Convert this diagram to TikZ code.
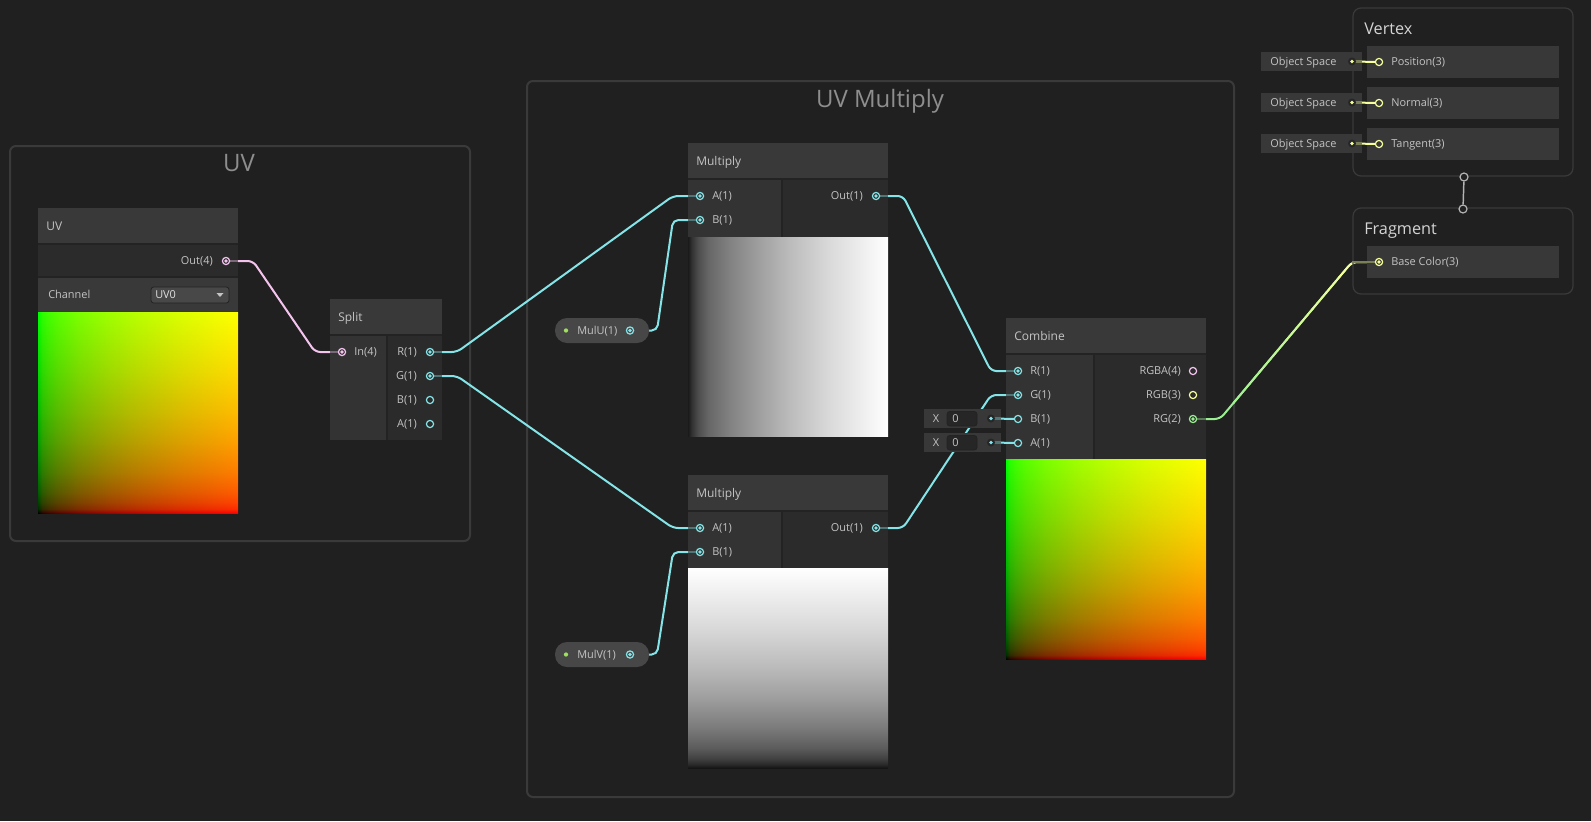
\documentclass[tikz,border=0pt]{standalone}
\usepackage{fontspec}
\setmainfont{Open Sans}
\usetikzlibrary{calc}

% palette
\definecolor{bg}{HTML}{202020}
\definecolor{grpline}{HTML}{3A3A3A}
\definecolor{grptxt}{HTML}{8E8E8E}
\definecolor{head}{HTML}{393939}
\definecolor{colin}{HTML}{333333}
\definecolor{colout}{HTML}{2B2B2B}
\definecolor{divc}{HTML}{232323}
\definecolor{txt}{HTML}{C4C4C4}
\definecolor{ctxtxt}{HTML}{D4D4D4}
\definecolor{cyanw}{HTML}{84E4E7}
\definecolor{pinkw}{HTML}{F4C4EE}
\definecolor{yelw}{HTML}{F6FF9A}
\definecolor{grnw}{HTML}{9AEF92}
\definecolor{pillc}{HTML}{474747}
\definecolor{propdot}{HTML}{9FE05C}
\definecolor{rowc}{HTML}{383838}
\definecolor{fieldbg}{HTML}{262626}
\definecolor{flowc}{HTML}{B4B4B4}
\definecolor{ddc}{HTML}{484848}

% gamma-corrected ramps (the central 25bp..75bp band maps onto the filled area)
\pgfdeclarehorizontalshading{rampRed}{100bp}{rgb(0bp)=(0,0,0); rgb(25bp)=(0,0,0); rgb(26bp)=(.169,0,0); rgb(27.5bp)=(.256,0,0); rgb(30bp)=(.351,0,0); rgb(35bp)=(.481,0,0); rgb(42.5bp)=(.62,0,0); rgb(50bp)=(.73,0,0); rgb(60bp)=(.85,0,0); rgb(75bp)=(1,0,0); rgb(100bp)=(1,0,0)}
\pgfdeclareverticalshading{rampGreen}{100bp}{rgb(0bp)=(0,0,0); rgb(25bp)=(0,0,0); rgb(26bp)=(0,.169,0); rgb(27.5bp)=(0,.256,0); rgb(30bp)=(0,.351,0); rgb(35bp)=(0,.481,0); rgb(42.5bp)=(0,.62,0); rgb(50bp)=(0,.73,0); rgb(60bp)=(0,.85,0); rgb(75bp)=(0,1,0); rgb(100bp)=(0,1,0)}
\pgfdeclarehorizontalshading{rampGrayH}{100bp}{rgb(0bp)=(.1,.1,.1); rgb(25bp)=(.1,.1,.1); rgb(26bp)=(.2,.2,.2); rgb(27.5bp)=(.3,.3,.3); rgb(30bp)=(.4,.4,.4); rgb(35bp)=(.5,.5,.5); rgb(42.5bp)=(.62,.62,.62); rgb(50bp)=(.73,.73,.73); rgb(60bp)=(.85,.85,.85); rgb(75bp)=(1,1,1); rgb(100bp)=(1,1,1)}
\pgfdeclareverticalshading{rampGrayV}{100bp}{rgb(0bp)=(.08,.08,.08); rgb(25bp)=(.08,.08,.08); rgb(26bp)=(.17,.17,.17); rgb(27.5bp)=(.26,.26,.26); rgb(30bp)=(.36,.36,.36); rgb(35bp)=(.48,.48,.48); rgb(42.5bp)=(.62,.62,.62); rgb(50bp)=(.73,.73,.73); rgb(60bp)=(.85,.85,.85); rgb(75bp)=(1,1,1); rgb(100bp)=(1,1,1)}

\newcommand\fntitle{\fontsize{9}{11}\selectfont}
\newcommand\fnport{\fontsize{8.2}{10}\selectfont}
\newcommand\fngroup{\fontsize{18}{21}\selectfont}
\newcommand\fnctx{\fontsize{12.2}{14}\selectfont}

% rectangular node from pixel corners: [style]{name}{x1}{y1}{x2}{y2}
\newcommand\rectnode[6][]{\node[blk,#1,minimum width={(#5-#3)*0.75pt},minimum height={(#6-#4)*0.75pt}] (#2) at (#3,#4) {};}
% wire between two ports with fixed horizontal lead-outs
\newcommand\wireto[3]{\draw[wire=#1] (#2.center) -- ($(#2.center)+(27,0)$) -- ($(#3.center)+(-27,0)$) -- (#3.center);}
% dimmed lead inside a node
\newcommand\stub[3]{\draw[stubw=#1] (#2.center) -- (#2.center -| #3);}
% UV style preview: red along x, green along y
\newcommand\uvpreview[4]{%
  \fill[shading=rampRed] (#1,#2) rectangle (#3,#4);
  \fill[shading=rampGreen, blend mode=screen] (#1,#2) rectangle (#3,#4);}

\pgfdeclarelayer{back}
\pgfdeclarelayer{wires}
\pgfdeclarelayer{stubs}
\pgfdeclarelayer{fore}
\pgfsetlayers{back,wires,main,stubs,fore}

\begin{document}
\begin{tikzpicture}[x=0.75pt, y=-0.75pt,
  blk/.style={rectangle, inner sep=0pt, outer sep=0pt, anchor=north west},
  nodebox/.style={fill=colout},
  grpframe/.style={draw=grpline, line width=1.5pt, rounded corners=4.5pt},
  ctxbox/.style={draw=grpline, line width=0.9pt, rounded corners=6pt},
  rowbox/.style={fill=rowc},
  osbox/.style={fill=rowc},
  fieldbox/.style={fill=rowc},
  valfield/.style={fill=fieldbg, draw=divc, line width=0.6pt, rounded corners=2pt},
  dropdown/.style={fill=ddc, draw=divc, line width=0.6pt, rounded corners=2pt},
  pill/.style={fill=pillc, rounded corners=9pt},
  divline/.style={draw=divc, line width=0.9pt},
  ntitle/.style={font=\fntitle, text=txt, inner sep=0pt, text height=6.4pt, text depth=0pt, anchor=west},
  plab/.style={font=\fnport, text=txt, inner sep=0pt, text height=5.85pt, text depth=0pt},
  gtitle/.style={font=\fngroup, text=grptxt, inner sep=0pt, text height=12.9pt, text depth=0pt},
  ctitle/.style={font=\fnctx, text=ctxtxt, inner sep=0pt, text height=8.7pt, text depth=0pt, anchor=west},
  pc/.style={circle, draw=#1, fill=colout, line width=0.9pt, minimum size=5.4pt, inner sep=0pt,
    path picture={\fill[#1] (path picture bounding box.center) circle (1.45pt);}},
  po/.style={circle, draw=#1, fill=colout, line width=0.9pt, minimum size=5.4pt, inner sep=0pt},
  idot/.style={circle, fill=fieldbg, minimum size=6pt, inner sep=0pt,
    path picture={\fill[#1] (path picture bounding box.center) circle (1.4pt);}},
  flowport/.style={circle, draw=flowc, fill=bg, line width=0.9pt, minimum size=6pt, inner sep=0pt},
  wire/.style={draw=#1, line width=1.5pt, rounded corners=4pt},
  stubw/.style={draw=#1!40!colout, line width=1.5pt}
]
\useasboundingbox (0,0) rectangle (1591,821);

% ---------- canvas and groups ----------
\begin{pgfonlayer}{back}
  \fill[bg] (0,0) rectangle (1591,821);
  \rectnode[grpframe]{uvGroup}{10}{146}{470}{541}
  \rectnode[grpframe]{mulGroup}{527}{81}{1234}{797}
\end{pgfonlayer}
\node[gtitle] (uvGroupT) at (239,163) {UV};
\node[gtitle] (mulGroupT) at (880,99) {UV Multiply};

% ---------- UV node ----------
\rectnode[nodebox]{uv}{38}{208}{238}{513}
\fill[head] (38,208) rectangle (238,244);
\fill[head] (38,277) rectangle (238,312);
\draw[divline] (38,244) -- (238,244) (38,277) -- (238,277);
\uvpreview{38}{312}{238}{513}
\node[ntitle] (uvT) at (46,226) {UV};
\node[plab, anchor=east] (uvOutL) at (213,261) {Out(4)};
\node[plab, anchor=west] (uvChan) at (48,295) {Channel};
\rectnode[dropdown]{uvDrop}{151}{287}{229}{303}
\node[plab, anchor=west, text=white!88!black] (uvDropT) at (155,295) {UV0};
\fill[txt] (216.5,293) -- (223.5,293) -- (220,297) -- cycle;

% ---------- Split node ----------
\rectnode[nodebox]{sp}{330}{299}{442}{440}
\fill[head] (330,299) rectangle (442,335);
\fill[colin] (330,335) rectangle (387,440);
\draw[divline] (330,335) -- (442,335) (387,335) -- (387,440);
\node[ntitle] (spT) at (338,317) {Split};
\node[plab, anchor=west] (spInL) at (354,352) {In(4)};
\node[plab, anchor=east] (spRL) at (417,352) {R(1)};
\node[plab, anchor=east] (spGL) at (417,376) {G(1)};
\node[plab, anchor=east] (spBL) at (417,400) {B(1)};
\node[plab, anchor=east] (spAL) at (417,424) {A(1)};

% ---------- Multiply (U) ----------
\rectnode[nodebox]{mulT}{688}{143}{888}{436}
\fill[head] (688,143) rectangle (888,179);
\fill[colin] (688,179) rectangle (782,237);
\draw[divline] (688,179) -- (888,179) (782,179) -- (782,237);
\fill[shading=rampGrayH] (688,237) rectangle (888,436);
\node[ntitle] (mulTT) at (696,161) {Multiply};
\node[plab, anchor=west] (mulTAL) at (712,196) {A(1)};
\node[plab, anchor=west] (mulTBL) at (712,220) {B(1)};
\node[plab, anchor=east] (mulTOutL) at (863,196) {Out(1)};

% ---------- Multiply (V) ----------
\rectnode[nodebox]{mulB}{688}{475}{888}{768}
\fill[head] (688,475) rectangle (888,511);
\fill[colin] (688,511) rectangle (782,568);
\draw[divline] (688,511) -- (888,511) (782,511) -- (782,568);
\fill[shading=rampGrayV] (688,568) rectangle (888,768);
\node[ntitle] (mulBT) at (696,493) {Multiply};
\node[plab, anchor=west] (mulBAL) at (712,528) {A(1)};
\node[plab, anchor=west] (mulBBL) at (712,552) {B(1)};
\node[plab, anchor=east] (mulBOutL) at (863,528) {Out(1)};

% ---------- properties ----------
\rectnode[pill]{mulU}{555}{318}{649}{343}
\fill[propdot] (566,330.5) circle (1.6pt);
\node[plab, anchor=west] (mulUL) at (577,330.5) {MulU(1)};
\rectnode[pill]{mulV}{555}{642}{649}{667}
\fill[propdot] (566,654.5) circle (1.6pt);
\node[plab, anchor=west] (mulVL) at (577,654.5) {MulV(1)};

% ---------- Combine ----------
\rectnode[nodebox]{cmb}{1006}{318}{1206}{659}
\fill[head] (1006,318) rectangle (1206,354);
\fill[colin] (1006,354) rectangle (1094,459);
\draw[divline] (1006,354) -- (1206,354) (1094,354) -- (1094,459);
\uvpreview{1006}{459}{1206}{659}
\node[ntitle] (cmbT) at (1014,336) {Combine};
\node[plab, anchor=west] (cmbRL) at (1030,371) {R(1)};
\node[plab, anchor=west] (cmbGL) at (1030,395) {G(1)};
\node[plab, anchor=west] (cmbBL) at (1030,419) {B(1)};
\node[plab, anchor=west] (cmbAL) at (1030,443) {A(1)};
\node[plab, anchor=east] (cmbRGBAL) at (1181,371) {RGBA(4)};
\node[plab, anchor=east] (cmbRGBL) at (1181,395) {RGB(3)};
\node[plab, anchor=east] (cmbRGL) at (1181,419) {RG(2)};

% inline default values
\rectnode[fieldbox]{fldB}{924}{409}{1001}{428}
\node[plab] (fldBX) at (936,418.5) {X};
\rectnode[valfield]{fldBV}{947}{411.5}{977}{426}
\node[plab, anchor=west] (fldBVT) at (952,418.5) {0};
\rectnode[fieldbox]{fldA}{924}{433}{1001}{452}
\node[plab] (fldAX) at (936,442.5) {X};
\rectnode[valfield]{fldAV}{947}{435.5}{977}{450}
\node[plab, anchor=west] (fldAVT) at (952,442.5) {0};

% ---------- Vertex / Fragment contexts ----------
\rectnode[ctxbox]{vtx}{1353}{8}{1573}{176}
\node[ctitle] (vtxT) at (1364,29) {Vertex};
\rectnode[rowbox]{vtxPos}{1367}{46}{1559}{78}
\rectnode[rowbox]{vtxNrm}{1367}{87}{1559}{119}
\rectnode[rowbox]{vtxTan}{1367}{128}{1559}{160}
\node[plab, anchor=west] (vtxPosL) at (1391,62) {Position(3)};
\node[plab, anchor=west] (vtxNrmL) at (1391,103) {Normal(3)};
\node[plab, anchor=west] (vtxTanL) at (1391,144) {Tangent(3)};
\rectnode[osbox]{osPos}{1261}{52}{1362}{71}
\rectnode[osbox]{osNrm}{1261}{93}{1362}{112}
\rectnode[osbox]{osTan}{1261}{134}{1362}{153}
\node[plab, anchor=west] (osPosL) at (1270,61.5) {Object Space};
\node[plab, anchor=west] (osNrmL) at (1270,102.5) {Object Space};
\node[plab, anchor=west] (osTanL) at (1270,143.5) {Object Space};

\rectnode[ctxbox]{frg}{1353}{208}{1573}{294}
\node[ctitle] (frgT) at (1364,229) {Fragment};
\rectnode[rowbox]{frgRow}{1367}{246}{1559}{278}
\node[plab, anchor=west] (frgBaseL) at (1391,262) {Base Color(3)};

% ---------- ports ----------
\begin{pgfonlayer}{fore}
  \node[pc=pinkw] (uvOut) at (226,261) {};
  \node[pc=pinkw, fill=colin] (spIn) at (342,352) {};
  \node[pc=cyanw] (spR) at (430,352) {};
  \node[pc=cyanw] (spG) at (430,376) {};
  \node[po=cyanw] (spB) at (430,400) {};
  \node[po=cyanw] (spA) at (430,424) {};
  \node[pc=cyanw, fill=colin] (mulTA) at (700,196) {};
  \node[pc=cyanw, fill=colin] (mulTB) at (700,220) {};
  \node[pc=cyanw] (mulTOut) at (876,196) {};
  \node[pc=cyanw, fill=colin] (mulBA) at (700,528) {};
  \node[pc=cyanw, fill=colin] (mulBB) at (700,552) {};
  \node[pc=cyanw] (mulBOut) at (876,528) {};
  \node[pc=cyanw, fill=pillc] (mulUOut) at (630,330.5) {};
  \node[pc=cyanw, fill=pillc] (mulVOut) at (630,654.5) {};
  \node[pc=cyanw, fill=colin] (cmbR) at (1018,371) {};
  \node[pc=cyanw, fill=colin] (cmbG) at (1018,395) {};
  \node[po=cyanw, fill=colin] (cmbB) at (1018,419) {};
  \node[po=cyanw, fill=colin] (cmbA) at (1018,443) {};
  \node[po=pinkw] (cmbRGBA) at (1193,371) {};
  \node[po=yelw] (cmbRGB) at (1193,395) {};
  \node[pc=grnw] (cmbRG) at (1193,419) {};
  \node[idot=cyanw] (fldBDot) at (991,418.5) {};
  \node[idot=cyanw] (fldADot) at (991,442.5) {};
  \node[po=yelw, fill=rowc] (vtxPosP) at (1379,62) {};
  \node[po=yelw, fill=rowc] (vtxNrmP) at (1379,103) {};
  \node[po=yelw, fill=rowc] (vtxTanP) at (1379,144) {};
  \node[idot=yelw] (osPosDot) at (1352,61.5) {};
  \node[idot=yelw] (osNrmDot) at (1352,102.5) {};
  \node[idot=yelw] (osTanDot) at (1352,143.5) {};
  \node[pc=yelw, fill=rowc] (frgBase) at (1379,262) {};
  \node[flowport] (vtxFlow) at (1464,177) {};
  \node[flowport] (frgFlow) at (1463,209) {};
\end{pgfonlayer}
\draw[flowc, line width=1.1pt] (vtxFlow) -- (frgFlow);

% ---------- connections ----------
\coordinate (rgBend) at ($(cmbRG.center)+(27,0)$);
\coordinate (bcBend) at ($(frgBase.center)+(-27,0)$);
\begin{pgfonlayer}{wires}
  \wireto{pinkw}{uvOut}{spIn}
  \wireto{cyanw}{spR}{mulTA}
  \wireto{cyanw}{spG}{mulBA}
  \wireto{cyanw}{mulUOut}{mulTB}
  \wireto{cyanw}{mulVOut}{mulBB}
  \wireto{cyanw}{mulTOut}{cmbR}
  \wireto{cyanw}{mulBOut}{cmbG}
  % RG(2) -> Base Color(3), blending from green to yellow
  \draw[wire=grnw] (cmbRG.center) -- (rgBend) -- (bcBend) -- (frgBase.center);
  \foreach \i in {1,...,8}{
    \pgfmathtruncatemacro\pct{\i*11}
    \pgfmathsetmacro\ta{\i/10}
    \pgfmathsetmacro\tb{\i/10+0.105}
    \draw[line width=1.5pt, draw=yelw!\pct!grnw] ($(rgBend)!\ta!(bcBend)$) -- ($(rgBend)!\tb!(bcBend)$);
  }
  \draw[wire=yelw] ($(rgBend)!0.9!(bcBend)$) -- (bcBend) -- (frgBase.center);
\end{pgfonlayer}

\begin{pgfonlayer}{stubs}
  \stub{pinkw}{uvOut}{uv.east}
  \stub{pinkw}{spIn}{sp.west}
  \stub{cyanw}{spR}{sp.east}
  \stub{cyanw}{spG}{sp.east}
  \stub{cyanw}{mulTA}{mulT.west}
  \stub{cyanw}{mulTB}{mulT.west}
  \stub{cyanw}{mulTOut}{mulT.east}
  \stub{cyanw}{mulBA}{mulB.west}
  \stub{cyanw}{mulBB}{mulB.west}
  \stub{cyanw}{mulBOut}{mulB.east}
  \stub{cyanw}{cmbR}{cmb.west}
  \stub{cyanw}{cmbG}{cmb.west}
  \stub{grnw}{cmbRG}{cmb.east}
  \draw[stubw=yelw] (frgBase.center) -- (bcBend);
  % inline value leads
  \draw[wire=cyanw] (fldBDot.center) -- (cmbB.center);
  \draw[wire=cyanw] (fldADot.center) -- (cmbA.center);
  \stub{cyanw}{fldBDot}{fldB.east}
  \stub{cyanw}{fldADot}{fldA.east}
  \draw[wire=yelw] (osPosDot.center) -- (vtxPosP.center);
  \draw[wire=yelw] (osNrmDot.center) -- (vtxNrmP.center);
  \draw[wire=yelw] (osTanDot.center) -- (vtxTanP.center);
  \stub{yelw}{osPosDot}{osPos.east}
  \stub{yelw}{osNrmDot}{osNrm.east}
  \stub{yelw}{osTanDot}{osTan.east}
\end{pgfonlayer}
\end{tikzpicture}
\end{document}
